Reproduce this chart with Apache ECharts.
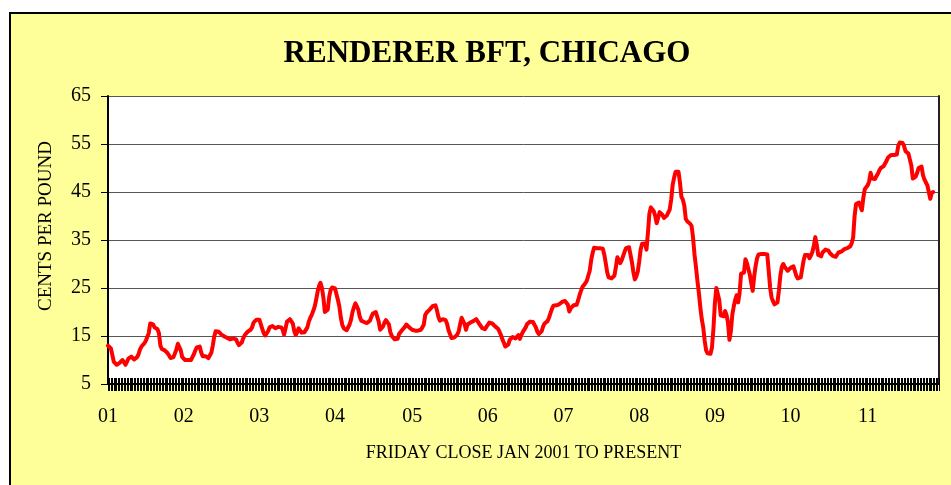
<!DOCTYPE html>
<html>
<head>
<meta charset="utf-8">
<title>Renderer BFT, Chicago</title>
<script src="https://cdn.jsdelivr.net/npm/echarts@6/dist/echarts.min.js"></script>
<style>
  html, body { margin: 0; padding: 0; background: #ffffff; }
  #chart { width: 951px; height: 485px; }
</style>
</head>
<body>
<div id="chart"></div>
<script>
// Weekly Friday close, cents per pound, one array per year
const price2001 = [13.0,12.8,12.4,11.0,9.6,9.2,9.0,9.0,9.4,9.8,10.0,9.6,9.0,9.6,10.3,10.6,10.7,10.4,10.1,10.2,10.6,11.2,12.2,12.8,13.2,13.5,14.0,14.4,15.6,17.6,17.9,17.4,16.8,16.6,16.4,15.6,13.0,12.3,12.2,12.0,11.7,11.4,11.0,10.4,10.1,10.6,11.0,12.2,13.4,13.0,12.0,10.6];
const price2002 = [10.2,10.0,10.0,10.0,10.0,10.0,10.6,11.2,12.0,12.6,12.9,12.8,11.6,10.8,10.8,10.8,10.6,10.4,10.8,11.5,13.0,14.9,16.0,16.0,15.9,15.6,15.3,15.0,14.9,14.9,14.6,14.2,14.3,14.5,14.5,14.4,14.3,13.6,13.1,13.4,13.7,14.6,15.2,15.6,15.9,16.1,16.3,16.8,17.8,18.1,18.4,18.5];
const price2003 = [18.4,18.0,16.5,15.6,15.1,15.0,16.0,16.8,17.0,17.1,16.8,16.6,16.6,16.9,17.3,16.8,16.3,15.3,16.6,18.0,18.4,18.5,18.4,17.6,16.0,15.2,15.8,16.6,16.3,15.7,15.6,15.8,16.0,16.8,18.0,18.8,19.4,20.2,21.1,22.5,24.2,25.4,26.1,25.0,23.0,20.0,19.7,20.5,23.2,24.6,25.1,24.9];
const price2004 = [24.9,24.6,22.5,21.1,18.8,17.3,16.6,16.4,16.2,16.6,17.4,18.4,20.0,21.0,21.8,22.0,20.5,19.0,18.2,18.0,17.9,17.9,17.7,17.6,18.2,19.0,19.7,20.1,20.0,19.8,18.0,16.3,16.6,17.0,17.8,18.3,18.2,17.4,15.8,15.0,14.6,14.3,14.1,14.4,15.4,15.8,16.2,16.5,16.9,17.4,17.3,16.8,16.5];
const price2005 = [16.3,16.2,16.1,16.0,16.1,16.2,16.3,16.8,17.4,19.4,19.9,20.2,20.5,20.8,21.2,21.6,21.4,20.4,19.0,18.2,18.3,18.5,18.4,18.3,17.5,16.2,15.4,14.6,14.5,14.7,15.0,15.3,16.0,17.5,18.8,18.6,17.5,16.3,17.4,17.6,17.8,17.9,18.1,18.3,18.5,18.2,17.6,17.2,16.7,16.5,16.4,16.9];
const price2006 = [17.3,17.8,18.0,17.6,17.3,17.0,16.8,16.5,15.9,15.2,14.3,13.6,12.8,12.9,13.2,14.2,14.6,14.8,14.8,14.5,14.8,15.2,14.4,15.2,15.8,16.1,16.8,17.5,17.9,18.0,18.0,17.9,17.6,16.8,15.9,15.4,15.0,16.0,17.0,17.6,17.9,18.1,18.8,19.7,20.6,21.3,21.6,21.4,21.2,21.6,22.0,22.1];
const price2007 = [22.2,22.3,22.4,21.5,20.1,20.8,21.2,21.4,21.5,21.5,22.4,23.5,24.4,25.2,25.6,26.0,26.5,26.9,28.6,30.8,32.3,33.4,33.5,33.3,33.3,33.3,33.3,33.2,32.0,30.2,28.3,27.2,27.1,27.0,27.0,27.6,29.4,31.4,31.6,30.2,30.8,31.7,32.6,33.3,33.5,33.5,33.2,30.4,28.3,26.8,27.4,28.4];
const price2008 = [30.5,33.0,34.2,34.4,34.3,33.0,36.5,40.5,41.8,41.9,41.0,40.0,38.5,39.6,40.8,40.6,40.2,39.6,39.7,40.1,40.4,41.4,43.5,46.5,48.0,49.2,49.4,49.2,47.0,44.0,43.4,42.2,39.4,38.9,38.8,38.4,37.9,35.5,32.0,29.4,26.5,24.0,21.0,18.5,16.8,14.0,12.0,11.4,11.2,11.3,12.6,16.5];
const price2009 = [21.8,25.0,24.8,22.5,19.3,19.0,19.1,20.2,19.4,17.8,14.2,16.0,19.5,21.2,22.6,23.5,22.0,24.0,28.0,28.2,28.2,31.0,30.2,29.0,27.8,26.0,24.4,27.4,29.6,31.2,32.0,32.1,32.1,32.1,32.1,32.1,32.0,28.5,25.0,23.0,22.2,21.6,21.5,22.0,24.5,27.6,29.4,30.0,29.4,29.0,28.6,28.3];
const price2010 = [29.2,29.6,29.5,29.4,27.5,27.0,27.0,27.2,29.0,30.8,31.9,32.1,31.9,31.2,31.8,32.5,33.8,35.6,34.0,31.9,31.6,31.6,32.4,32.7,33.0,33.1,32.8,32.3,32.0,31.7,31.6,31.5,31.8,32.4,32.5,32.6,32.9,33.1,33.2,33.3,33.4,33.7,34.3,35.5,40.0,42.5,42.8,42.8,42.7,41.2,43.8,45.6];
const price2011 = [45.8,46.4,47.2,49.0,47.8,47.6,47.7,48.3,48.8,49.5,50.0,50.3,50.4,50.6,51.5,52.2,52.5,52.7,52.7,52.7,52.7,52.8,54.6,55.3,55.3,55.2,54.6,53.5,53.1,53.0,52.8,50.5,47.8,47.5,48.2,49.0,50.0,50.4,50.3,48.5,47.6,47.5,46.4,45.0,43.6,44.8,45.0];

const prices = [].concat(price2001, price2002, price2003, price2004, price2005, price2006,
  price2007, price2008, price2009, price2010, price2011);

// Category axis: every Friday from 5 Jan 2001, running a few weeks past the last close
const FIRST_FRIDAY = Date.UTC(2001, 0, 5);
const WEEK_COUNT = 572;
const weeks = [];
for (let i = 0; i < WEEK_COUNT; i++) {
  weeks.push(new Date(FIRST_FRIDAY + i * 7 * 86400000).toISOString().slice(0, 10));
}

// Year labels placed under the first Friday of each year
const yearLabels = { '2001': '01', '2002': '02', '2003': '03', '2004': '04', '2005': '05', '2006': '06',
  '2007': '07', '2008': '08', '2009': '09', '2010': '10', '2011': '11' };
function isFirstWeekOfYear(index) {
  return index === 0 || weeks[index].slice(0, 4) !== weeks[index - 1].slice(0, 4);
}

// Value axis ticks
const yTicks = [5, 15, 25, 35, 45, 55, 65];

const SERIF = "'Liberation Serif', 'Times New Roman', Times, serif";

const chart = echarts.init(document.getElementById('chart'), null, { renderer: 'canvas' });

chart.setOption({
  backgroundColor: '#ffffff',
  animation: false,
  title: {
    text: 'RENDERER BFT, CHICAGO',
    left: 487,
    top: 38,
    textAlign: 'center',
    padding: 0,
    textStyle: { fontFamily: SERIF, fontWeight: 'bold', fontSize: 31, color: '#000' }
  },
  graphic: [
    {
      type: 'rect',
      z: -10,
      shape: { x: 10, y: 13, width: 960, height: 500 },
      style: { fill: '#FFFF99', stroke: '#000000', lineWidth: 2 }
    },
    {
      type: 'text',
      x: 46,
      y: 226,
      rotation: Math.PI / 2,
      style: {
        text: 'CENTS PER POUND',
        fontFamily: SERIF,
        fontSize: 19,
        fill: '#000',
        align: 'center',
        verticalAlign: 'middle'
      }
    }
  ],
  grid: {
    left: 108,
    top: 96,
    width: 831,
    height: 288,
    show: true,
    backgroundColor: '#ffffff',
    borderWidth: 0
  },
  xAxis: [
    {
      type: 'category',
      data: weeks,
      boundaryGap: false,
      position: 'bottom',
      name: 'FRIDAY CLOSE JAN 2001 TO PRESENT',
      nameLocation: 'middle',
      nameGap: 60,
      nameTextStyle: { fontFamily: SERIF, fontSize: 18, color: '#000' },
      axisLine: { show: true, onZero: false, lineStyle: { color: '#000', width: 2 } },
      axisTick: { show: true, interval: 0, inside: false, length: 7, lineStyle: { color: '#000', width: 1 } },
      axisLabel: {
        interval: function (index) { return isFirstWeekOfYear(index); },
        formatter: function (value) { return yearLabels[value.slice(0, 4)]; },
        margin: 23,
        fontFamily: SERIF,
        fontSize: 20,
        color: '#000'
      },
      splitLine: { show: false }
    },
    {
      type: 'category',
      data: weeks,
      boundaryGap: false,
      position: 'bottom',
      axisLine: { show: false, onZero: false },
      axisTick: { show: true, interval: 0, inside: true, length: 6, lineStyle: { color: '#000', width: 1 } },
      axisLabel: { show: false },
      splitLine: { show: false }
    }
  ],
  yAxis: [
    {
      type: 'value',
      min: 5,
      max: 65,
      position: 'left',
      axisLine: { show: true, lineStyle: { color: '#000', width: 2 } },
      axisTick: { show: true, inside: false, length: 7, customValues: yTicks, lineStyle: { color: '#000', width: 1 } },
      axisLabel: {
        customValues: yTicks,
        margin: 17,
        fontFamily: SERIF,
        fontSize: 20,
        color: '#000'
      },
      splitLine: { show: true, lineStyle: { color: '#555555', width: 1 } }
    },
    {
      type: 'value',
      min: 5,
      max: 65,
      position: 'right',
      axisLine: { show: true, lineStyle: { color: '#222', width: 2 } },
      axisTick: { show: false },
      axisLabel: { show: false },
      splitLine: { show: false }
    }
  ],
  series: [
    {
      type: 'line',
      name: 'Renderer BFT, Chicago',
      xAxisIndex: 0,
      yAxisIndex: 0,
      data: prices,
      showSymbol: false,
      symbol: 'none',
      smooth: false,
      lineStyle: { color: '#FF0000', width: 4, join: 'round', cap: 'round' },
      z: 5
    }
  ]
});
</script>
</body>
</html>
